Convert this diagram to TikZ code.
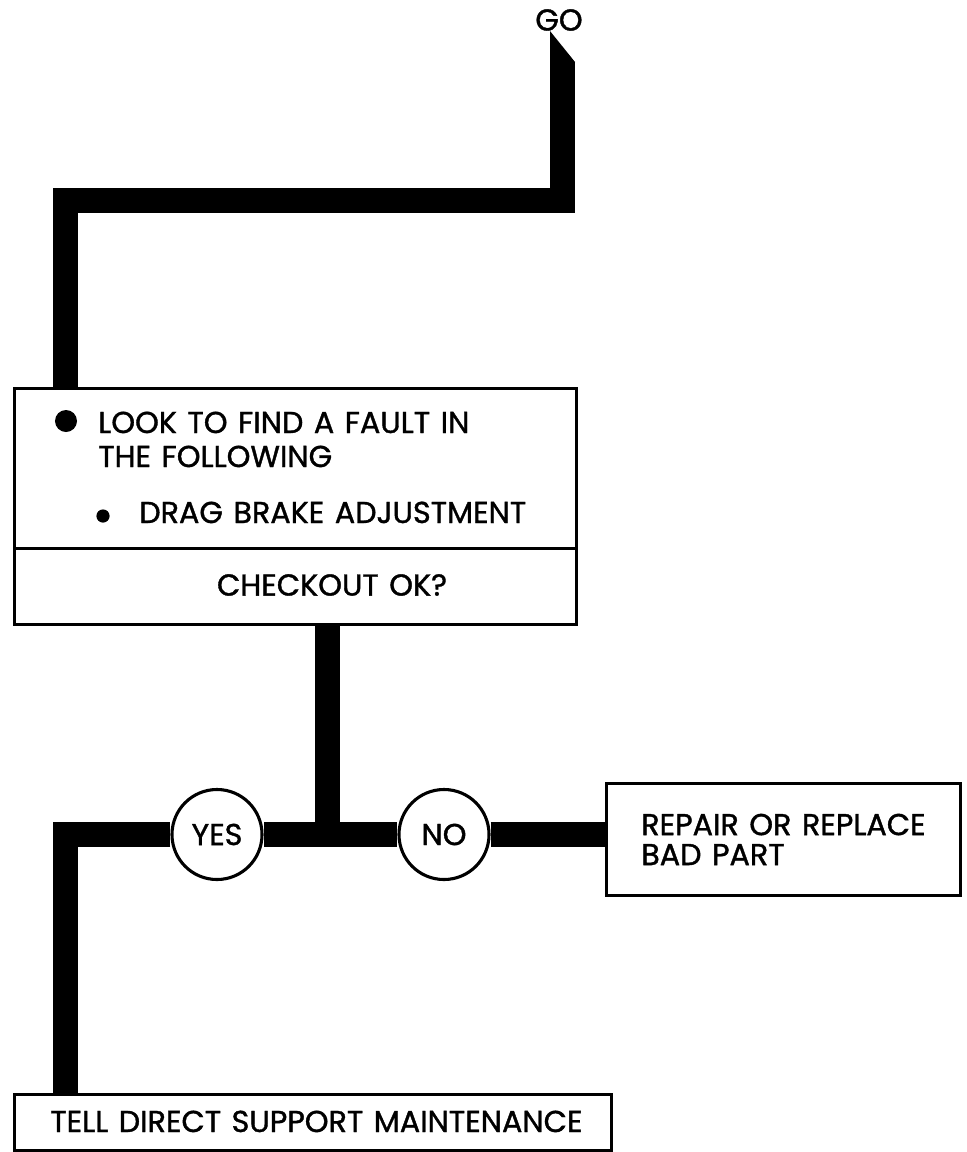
\documentclass[tikz,border=0pt]{standalone}
\usepackage{fontspec}
\setmainfont{Poppins}[FakeBold=1.2, WordSpace=1.3]
\usepackage{tikz}
\usetikzlibrary{positioning}

\begin{document}
\begin{tikzpicture}[x=0.025cm, y=0.025cm,
  every node/.style={font=\fontsize{21.5}{21.3}\selectfont, inner sep=0pt},
  box/.style={rectangle, draw=black, line width=2pt, fill=white},
  decision/.style={circle, draw=black, line width=2.2pt, fill=white, minimum size=2.25cm},
  flow/.style={line width=0.625cm, line join=miter},
  dot/.style={circle, fill=black, minimum size=#1}]

\useasboundingbox (0,0) rectangle (967,-1152);

% Start
\node (go) at (559,-20) {GO};
\coordinate (gotop) at (562.5,-62);
\coordinate (bend) at (65.5,-200.5);
\fill (550,-31) -- (575,-62) -- (550,-62) -- cycle;

% Pierwszy blok
\node[box, anchor=north west, minimum width=14.05cm, minimum height=4cm] (look) at (13,-387) {};
\node[box, anchor=north west, minimum width=14.05cm, minimum height=1.9cm] (checkout) at (13,-547) {};
\node (okq) at (332,-585) {CHECKOUT OK?};
\node[dot=0.55cm] (bigdot) at (66,-421) {};
\node[anchor=base west] (fault) at (98,-433) {LOOK TO FIND A FAULT IN};
\node[anchor=base west] (follow) at (98,-467) {THE FOLLOWING};
\node[dot=0.33cm] (smalldot) at (103,-516) {};
\node[anchor=base west] (drag) at (139,-523) {DRAG BRAKE ADJUSTMENT};

\draw[flow] (gotop) |- (bend) -- (bend |- look.north);

% Decyzja
\coordinate (split) at (327.5,-834.5);
\foreach \n/\x/\t in {yes/217/YES, no/444/NO} {
  \node[decision] (\n) at (\x,-834.5) {\t};
}
\node[box, anchor=north west, minimum width=8.85cm, minimum height=2.8cm, align=left] (repair) at (605,-782) {REPAIR OR REPLACE\\BAD PART};
\node[box, anchor=north west, minimum width=14.925cm, minimum height=1.4cm] (tell) at (13,-1093) {};
\node[anchor=base west] (telltxt) at (50,-1132) {TELL DIRECT SUPPORT MAINTENANCE};

\draw[flow] (checkout.south -| split) -- (split);
\draw[flow] (split) -- (yes);
\draw[flow] (split) -- (no);
\draw[flow] (no) -- (no -| repair.west);
\draw[flow] (yes) -| (tell.north -| bend);
\end{tikzpicture}
\end{document}
